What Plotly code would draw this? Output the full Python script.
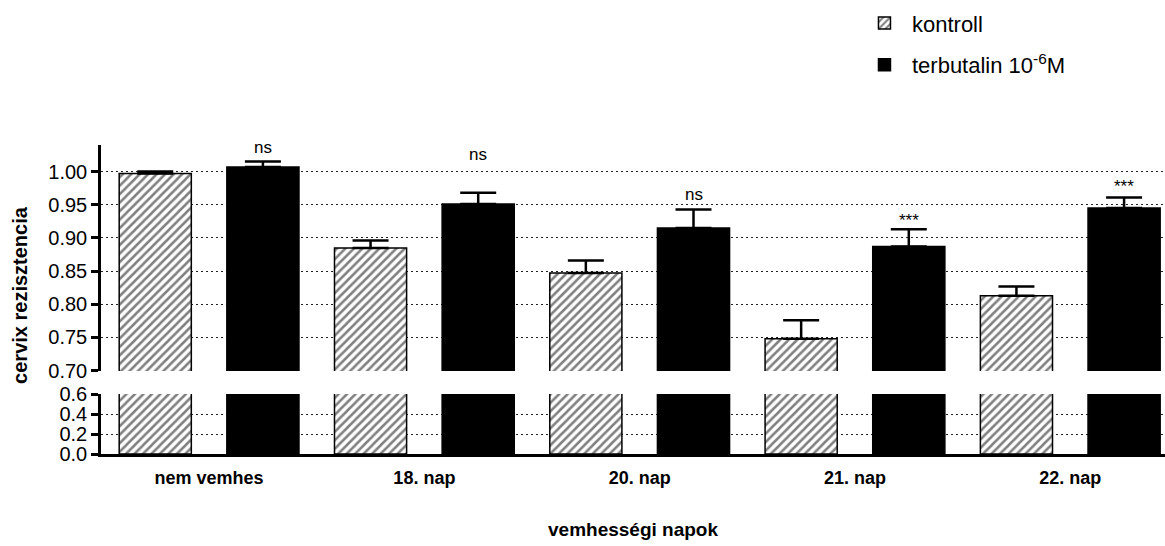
import plotly.graph_objects as go

# Cervical resistance by gestational day, control vs terbutaline
categories = ["nem vemhes", "18. nap", "20. nap", "21. nap", "22. nap"]
kontroll_mean = [0.997, 0.885, 0.847, 0.748, 0.813]
kontroll_sem = [0.003, 0.011, 0.019, 0.028, 0.014]
terbutalin_mean = [1.007, 0.951, 0.915, 0.887, 0.945]
terbutalin_sem = [0.008, 0.017, 0.028, 0.026, 0.016]
significance = ["ns", "ns", "ns", "***", "***"]

upper_ticks = [0.70, 0.75, 0.80, 0.85, 0.90, 0.95, 1.00]
lower_ticks = [0.0, 0.2, 0.4, 0.6]
lower_ticktext = ["0.0", "0.2", "0.4", "0.6"]

# extra lift of each significance label above its error bar (data units)
label_lift = [0.021, 0.057, 0.023, 0.013, 0.017]

FONT = "Liberation Sans, Arial, sans-serif"
x_pos = list(range(len(categories)))

hatch = dict(shape="/", fgcolor="black", bgcolor="white", size=6, solidity=0.42)
bar_line = dict(color="black", width=1.5)

fig = go.Figure()

# broken y axis: two panels share the x axis
for xa, ya, with_err, show_leg in [("x2", "y2", True, True), ("x", "y", False, False)]:
    fig.add_trace(go.Bar(
        x=x_pos, y=kontroll_mean, name="kontroll", xaxis=xa, yaxis=ya,
        marker=dict(color="white", pattern=hatch, line=bar_line),
        error_y=dict(type="data", symmetric=False, array=kontroll_sem,
                     arrayminus=[0] * len(kontroll_sem), color="black",
                     thickness=2.5, width=18, visible=with_err),
        showlegend=show_leg, legendgroup="k",
    ))
    fig.add_trace(go.Bar(
        x=x_pos, y=terbutalin_mean, name="terbutalin 10<sup>-6</sup>M", xaxis=xa, yaxis=ya,
        marker=dict(color="black", line=bar_line),
        error_y=dict(type="data", symmetric=False, array=terbutalin_sem,
                     arrayminus=[0] * len(terbutalin_sem), color="black",
                     thickness=2.5, width=18, visible=with_err),
        showlegend=show_leg, legendgroup="t",
    ))

annotations = []
for i, lab in enumerate(significance):
    annotations.append(dict(
        x=x_pos[i] + 0.25, y=terbutalin_mean[i] + terbutalin_sem[i] + label_lift[i],
        xref="x2", yref="y2", text=lab, showarrow=False,
        font=dict(family=FONT, size=17, color="black"),
        xanchor="center", yanchor="middle",
    ))
annotations.append(dict(
    text="cervix rezisztencia", textangle=-90, x=-0.0761, y=0.515,
    xref="paper", yref="paper", showarrow=False, xanchor="center", yanchor="middle",
    font=dict(family=FONT, size=20, color="black", weight="bold"),
))
annotations.append(dict(
    text="vemhességi napok", x=0.5, y=-0.245, xref="paper", yref="paper",
    showarrow=False, xanchor="center", yanchor="middle",
    font=dict(family=FONT, size=19, color="black", weight="bold"),
))

grid = dict(showgrid=True, gridcolor="#222222", gridwidth=1, griddash="2px,3px")
yaxis_common = dict(
    showline=True, linecolor="black", linewidth=2.5,
    ticks="outside", ticklen=7, tickwidth=2.5, tickcolor="black",
    tickfont=dict(family=FONT, size=20, color="black"),
    zeroline=False, **grid,
)

fig.update_layout(
    width=1165, height=546,
    margin=dict(l=101, r=0, t=145, b=92),
    paper_bgcolor="white", plot_bgcolor="white",
    font=dict(family=FONT, color="black"),
    barmode="group", bargap=0.0, bargroupgap=0.33,
    xaxis=dict(
        domain=[0, 1], anchor="y", range=[-0.502, 4.44],
        tickmode="array", tickvals=x_pos, ticktext=categories,
        tickfont=dict(family=FONT, size=18, color="black", weight="bold"),
        ticks="", ticklabelstandoff=6,
        showline=True, linecolor="black", linewidth=2.5, showgrid=False, zeroline=False,
    ),
    xaxis2=dict(
        domain=[0, 1], anchor="y2", matches="x", range=[-0.502, 4.44],
        showticklabels=False, showline=False, showgrid=False, zeroline=False, ticks="",
    ),
    yaxis=dict(
        domain=[0, 0.1942], anchor="x", range=[0, 0.6005],
        tickmode="array", tickvals=lower_ticks, ticktext=lower_ticktext,
        **yaxis_common,
    ),
    yaxis2=dict(
        domain=[0.2686, 1], anchor="x2", range=[0.6995, 1.04],
        tickmode="array", tickvals=upper_ticks, tickformat=".2f",
        **yaxis_common,
    ),
    legend=dict(
        x=0.7105, y=1.462, xanchor="left", yanchor="top",
        font=dict(family=FONT, size=22, color="black"),
        bgcolor="rgba(0,0,0,0)", tracegroupgap=10, itemwidth=45,
    ),
    annotations=annotations,
)

fig.write_html("out.html")
